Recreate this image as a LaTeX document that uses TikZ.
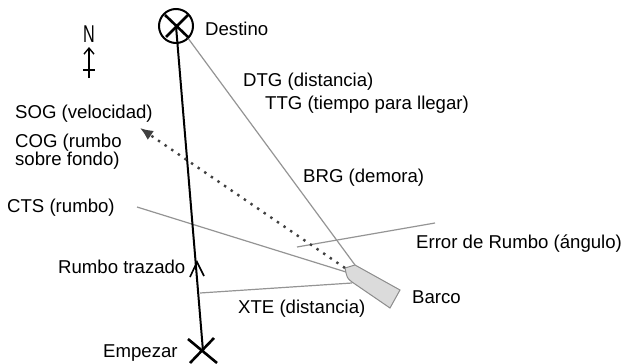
\documentclass[tikz,border=0pt]{standalone}
\usepackage{fontspec}
\setmainfont{Liberation Sans}
\usetikzlibrary{arrows.meta}
\begin{document}
\begin{tikzpicture}[x=1pt,y=-1pt,
  lbl/.style={anchor=base west,inner sep=0pt,font=\fontsize{18.6}{18.6}\selectfont},
  thinline/.style={draw=black!42,line width=1.2pt},
  route/.style={draw=black,line width=2pt},
  chevron/.style={draw=black,line width=1.6pt,line join=miter},
  crossmark/.style={draw=black,line width=2.6pt},
  boatshape/.style={draw=black!45,fill=black!14,line width=1pt}]
\useasboundingbox (0,0) rectangle (622,364);
% destination
\node[circle,draw,line width=2pt,minimum size=34pt,inner sep=0pt] (dest) at (176,26) {};
\coordinate (start) at (203,351);
% boat points
\coordinate (bow) at (345,268);
\coordinate (b1) at (355,265);
\coordinate (b2) at (400,290);
\coordinate (b3) at (390,308);
\coordinate (b4) at (352,282);
\coordinate (cogtip) at (140,128);
\coordinate (ctsend) at (137,207);
\coordinate (ctsboat) at (346,272);
\coordinate (xteroute) at (200,293);
\coordinate (xteboat) at (352,283);
\coordinate (erra) at (297,247);
\coordinate (errb) at (435,223);
% thin lines
\draw[thinline] (dest.center) ++(6,4) coordinate (brgs) -- (b1);
\draw[thinline] (ctsend) -- (ctsboat);
\draw[thinline] (xteroute) -- (xteboat);
\draw[thinline] (erra) -- (errb);
% boat
\path[boatshape] (bow) -- (b1) -- (b2) -- (b3) -- (b4) .. controls (347,278) .. (bow) -- cycle;
% route
\draw[route] (start) -- (dest.center);
\draw[chevron] (190,277) -- (197,262) -- (204,276);
% COG dotted arrow
\draw[draw=black!75,line width=2.4pt,dash pattern=on 2.4pt off 5.6pt,-{Latex[length=13pt,width=11pt]}] (bow) -- (cogtip);
% crosses
\draw[crossmark] (165,15) -- (189,38) (188,15) -- (166,37);
\draw[crossmark] (188,339) -- (217,363) (214,338) -- (190,363);
% north arrow
\node[inner sep=0pt,anchor=base,font=\fontsize{18}{18}\selectfont] (north) at (89,42) {\scalebox{0.9}[1.35]{N}};
\draw[line width=1.4pt,-{Straight Barb[length=6pt,width=10pt,line width=1.4pt]}] (89,78) -- (89,47);
\draw[line width=1.4pt] (83,70) -- (95,70);
% labels
\node[lbl] (tdest) at (205,35) {Destino};
\node[lbl] (tdtg) at (243,86) {DTG (distancia)};
\node[lbl] (tttg) at (265,109) {TTG (tiempo para llegar)};
\node[lbl] (tsog) at (15,118) {SOG (velocidad)};
\node[lbl] (tcog) at (15,147) {COG (rumbo};
\node[lbl] (tcog2) at (15,165) {sobre fondo)};
\node[lbl] (tbrg) at (303,182) {BRG (demora)};
\node[lbl] (tcts) at (7,212) {CTS (rumbo)};
\node[lbl] (terr) at (416,248) {Error de Rumbo (ángulo)};
\node[lbl] (trumbo) at (58,273) {Rumbo trazado};
\node[lbl] (tbarco) at (412,303) {Barco};
\node[lbl] (txte) at (238,313) {XTE (distancia)};
\node[lbl] (tstart) at (103,357) {Empezar};
\end{tikzpicture}
\end{document}
